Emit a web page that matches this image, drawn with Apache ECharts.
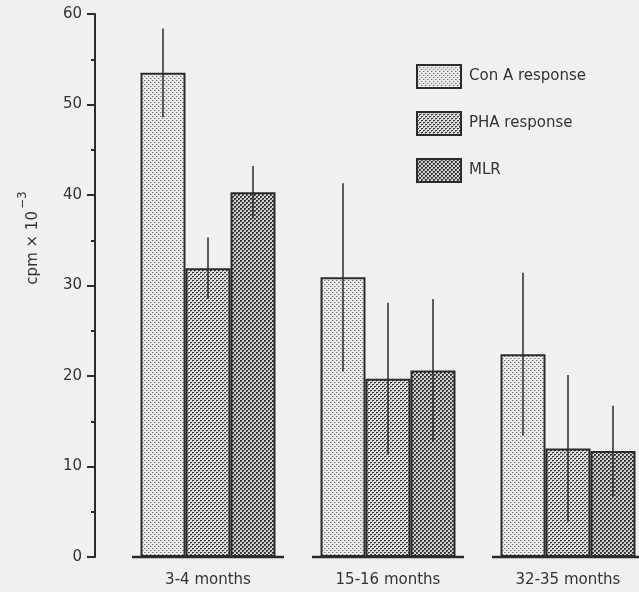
<!DOCTYPE html>
<html>
<head>
<meta charset="utf-8">
<script src="https://cdn.jsdelivr.net/npm/echarts@6/dist/echarts.min.js"></script>
<style>
  html, body { margin: 0; padding: 0; background: #f0f0f0; overflow: hidden; }
  #chart { width: 660px; height: 592px; }
</style>
</head>
<body>
<div id="chart"></div>
<script>
// Age groups and the three assay responses (mean and SD, cpm x 10^-3)
const categories = ['3-4 months', '15-16 months', '32-35 months'];
const seriesNames = ['Con A response', 'PHA response', 'MLR'];
const conA = [53.5, 30.9, 22.4];
const conASd = [4.9, 10.4, 9.0];
const pha = [31.9, 19.7, 12.0];
const phaSd = [3.4, 8.4, 8.1];
const mlr = [40.3, 20.6, 11.7];
const mlrSd = [2.9, 7.9, 5.0];
const yTicks = [0, 10, 20, 30, 40, 50, 60];

const INK = '#2b2b2b';
const FONT = 'DejaVu Sans';
const BAR_W = 45;

// Halftone-like dot screens used as bar fills: [x, y, w, h, colour]
function dotPattern(bg, dots) {
  const c = document.createElement('canvas');
  c.width = 4; c.height = 4;
  const ctx = c.getContext('2d');
  ctx.fillStyle = bg; ctx.fillRect(0, 0, 4, 4);
  dots.forEach(([x, y, w, h, col]) => { ctx.fillStyle = col; ctx.fillRect(x, y, w, h); });
  return { image: c, repeat: 'repeat' };
}
const fills = [
  dotPattern('#ebebeb', [
    [0, 0, 1, 1, '#767676'], [2, 2, 1, 1, '#767676'],
    [1, 0, 1, 1, '#b8b8b8'], [3, 2, 1, 1, '#b8b8b8']
  ]),
  dotPattern('#e0e0e0', [
    [0, 0, 2, 1, '#3a3a3a'], [2, 2, 2, 1, '#3a3a3a'],
    [0, 1, 1, 1, '#8a8a8a'], [2, 3, 1, 1, '#8a8a8a']
  ]),
  dotPattern('#d0d0d0', [
    [0, 0, 2, 2, '#363636'], [2, 2, 2, 2, '#363636'],
    [1, 1, 1, 1, '#6e6e6e'], [3, 3, 1, 1, '#6e6e6e']
  ])
];

const means = [conA, pha, mlr];
const sds = [conASd, phaSd, mlrSd];

// error bar rows: [categoryIndex, low, high, seriesIndex]
const errData = [];
means.forEach((m, si) => m.forEach((v, ci) => {
  errData.push([ci, v - sds[si][ci], v + sds[si][ci], si]);
}));

const baseData = categories.map((c, i) => [i, 0]);

const barSeries = seriesNames.map((name, si) => ({
  name: name,
  type: 'bar',
  data: means[si],
  barWidth: BAR_W,
  barGap: '0%',
  itemStyle: { color: fills[si], borderColor: INK, borderWidth: 2 },
  emphasis: { disabled: true },
  z: 2
}));

const chart = echarts.init(document.getElementById('chart'), null, { renderer: 'canvas' });
chart.setOption({
  backgroundColor: '#f0f0f0',
  animation: false,
  textStyle: { fontFamily: FONT },
  grid: { left: 118, top: 14, width: 540, height: 543, containLabel: false },
  legend: {
    orient: 'vertical',
    left: 411,
    top: 59,
    itemWidth: 44,
    itemHeight: 23,
    itemGap: 22,
    icon: 'rect',
    data: seriesNames,
    textStyle: { fontSize: 15, color: '#333', fontFamily: FONT, padding: [0, 0, 0, 3] }
  },
  xAxis: {
    type: 'category',
    data: categories,
    axisLine: { show: false },
    axisTick: { show: false },
    axisLabel: { margin: 16, fontSize: 15, color: '#333', fontFamily: FONT }
  },
  yAxis: {
    type: 'value',
    min: yTicks[0],
    max: yTicks[yTicks.length - 1],
    interval: yTicks[1] - yTicks[0],
    offset: 23,
    axisLine: { show: true, lineStyle: { color: INK, width: 2 } },
    axisTick: { show: true, length: 8, lineStyle: { color: INK, width: 2 } },
    minorTick: { show: true, splitNumber: 2, length: 4, lineStyle: { color: INK, width: 2 } },
    splitLine: { show: false },
    axisLabel: { margin: 13, fontSize: 15, color: '#333', fontFamily: FONT }
  },
  graphic: [{
    type: 'text',
    x: 29,
    y: 238,
    rotation: Math.PI / 2,
    style: {
      text: '{a|cpm × 10}{b|−3}',
      align: 'center',
      verticalAlign: 'middle',
      fill: '#333',
      rich: {
        a: { fontSize: 15, lineHeight: 24, fontFamily: FONT, fill: '#333', verticalAlign: 'bottom' },
        b: { fontSize: 12, lineHeight: 12, fontFamily: FONT, fill: '#333', verticalAlign: 'top', padding: [0, 0, 0, 2] }
      }
    }
  }],
  series: barSeries.concat([
    {
      // SD lines through the middle of each bar
      type: 'custom',
      data: errData,
      encode: { x: 0, y: [1, 2] },
      z: 5,
      silent: true,
      renderItem: function (params, api) {
        const ci = api.value(0);
        const lo = api.coord([ci, api.value(1)]);
        const hi = api.coord([ci, api.value(2)]);
        const x = lo[0] + (api.value(3) - 1) * BAR_W;
        return {
          type: 'line',
          shape: { x1: x, y1: lo[1], x2: x, y2: hi[1] },
          style: { stroke: INK, lineWidth: 1.5 }
        };
      }
    },
    {
      // separate base line under each age group
      type: 'custom',
      data: baseData,
      encode: { x: 0, y: 1 },
      z: 6,
      silent: true,
      renderItem: function (params, api) {
        const p = api.coord([api.value(0), api.value(1)]);
        return {
          type: 'line',
          shape: { x1: p[0] - 76, y1: p[1], x2: p[0] + 76, y2: p[1] },
          style: { stroke: INK, lineWidth: 2.5 }
        };
      }
    }
  ])
});
</script>
</body>
</html>
